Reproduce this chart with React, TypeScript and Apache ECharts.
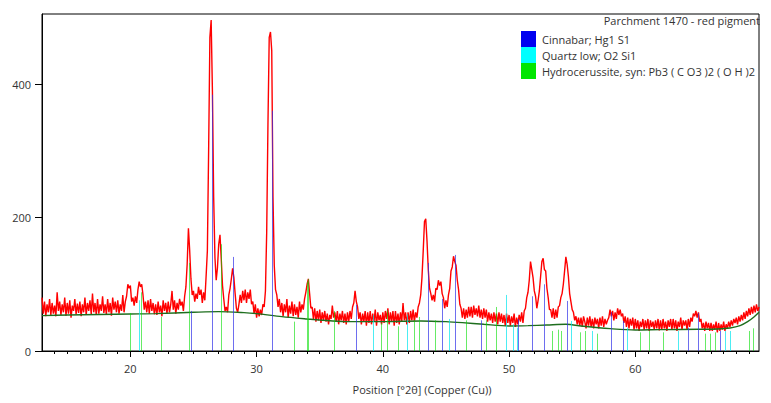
import React, { useEffect, useRef } from "react";
import * as echarts from "echarts";

// Observed pattern: intensity (counts) sampled every 0.1 °2θ from 13.0 to 69.8
const scanStart = 13.0;
const scanStep = 0.1;
const observedCounts = [
  80, 56, 74, 52, 70, 58, 78, 54, 72, 56,
  68, 52, 88, 60, 74, 54, 70, 58, 80, 53,
  72, 56, 76, 50, 68, 60, 78, 55, 71, 57,
  74, 52, 70, 58, 80, 54, 72, 60, 76, 55,
  86, 58, 72, 54, 78, 56, 70, 60, 82, 57,
  70, 55, 78, 58, 72, 53, 80, 62, 74, 58,
  76, 56, 70, 60, 84, 58, 74, 82, 100, 94,
  98, 74, 80, 68, 82, 72, 92, 104, 96, 100,
  84, 62, 74, 58, 76, 56, 78, 60, 72, 55,
  70, 54, 74, 58, 68, 52, 76, 60, 72, 56,
  74, 58, 70, 90, 62, 76, 56, 72, 62, 78,
  68, 74, 60, 82, 96, 130, 184, 150, 108, 84,
  90, 74, 86, 78, 96, 84, 92, 72, 88, 76,
  112, 150, 300, 470, 496, 390, 230, 140, 106, 125,
  160, 174, 138, 98, 78, 60, 66, 58, 84, 94,
  108, 124, 110, 86, 64, 58, 70, 84, 72, 90,
  76, 92, 72, 88, 78, 92, 70, 74, 56, 70,
  50, 64, 52, 62, 54, 70, 66, 90, 178, 340,
  470, 478, 450, 230, 128, 92, 84, 66, 78, 58,
  72, 52, 70, 58, 78, 50, 68, 56, 74, 52,
  70, 54, 66, 50, 74, 58, 70, 62, 78, 88,
  100, 108, 86, 64, 66, 48, 64, 44, 60, 46,
  62, 42, 58, 46, 60, 44, 56, 40, 54, 48,
  68, 50, 58, 44, 60, 40, 56, 46, 60, 42,
  56, 40, 58, 44, 60, 48, 66, 72, 90, 74,
  66, 48, 58, 40, 56, 44, 60, 38, 58, 42,
  60, 40, 56, 44, 62, 38, 58, 46, 54, 40,
  58, 42, 60, 48, 64, 40, 58, 44, 60, 38,
  60, 42, 56, 40, 58, 44, 72, 46, 58, 40,
  58, 42, 60, 46, 62, 44, 58, 50, 66, 72,
  84, 110, 150, 194, 198, 165, 122, 94, 86, 76,
  84, 74, 94, 92, 106, 98, 104, 86, 80, 64,
  76, 66, 84, 94, 120, 126, 142, 134, 128, 106,
  92, 70, 64, 50, 64, 48, 62, 50, 66, 52,
  66, 50, 68, 54, 64, 52, 68, 50, 62, 48,
  64, 50, 62, 44, 58, 46, 56, 42, 58, 44,
  56, 40, 58, 44, 56, 42, 54, 38, 56, 42,
  54, 38, 52, 42, 56, 36, 50, 40, 54, 44,
  58, 42, 60, 64, 80, 88, 106, 134, 122, 110,
  90, 82, 64, 76, 90, 112, 134, 139, 122, 120,
  94, 80, 62, 62, 50, 64, 48, 62, 50, 66,
  68, 80, 86, 100, 120, 141, 130, 112, 86, 74,
  62, 58, 46, 52, 40, 50, 38, 50, 36, 52,
  44, 34, 50, 38, 52, 36, 48, 34, 50, 40,
  48, 34, 50, 38, 52, 36, 48, 40, 46, 50,
  62, 52, 60, 46, 58, 48, 64, 54, 62, 52,
  56, 42, 52, 36, 50, 34, 48, 38, 50, 32,
  48, 34, 46, 30, 44, 36, 48, 32, 46, 34,
  48, 30, 46, 36, 44, 32, 46, 34, 48, 31,
  46, 32, 48, 34, 44, 30, 46, 36, 48, 32,
  48, 34, 46, 30, 44, 36, 50, 32, 46, 38,
  46, 32, 48, 36, 50, 44, 56, 52, 60, 50,
  58, 44, 48, 34, 42, 30, 44, 34, 42, 30,
  42, 30, 40, 32, 44, 28, 42, 30, 40, 32,
  44, 30, 40, 34, 44, 36, 46, 38, 48, 42,
  50, 40, 52, 44, 54, 46, 58, 48, 60, 52,
  64, 54, 66, 56, 68, 58, 70, 60, 66,
];

// Background curve
const backgroundPos = [13, 15, 20, 22, 25, 27, 29, 30, 32, 34, 35, 37, 40, 43, 45, 46.3, 48, 50, 51.5, 53, 54.5, 55.9, 58, 60, 62, 65, 66.5, 67.5, 68.3, 68.9, 69.4, 69.8];
const backgroundInt = [53, 54, 55.5, 56, 58, 59, 57.5, 56, 51.5, 48, 46.5, 44, 44, 45, 44, 42.5, 40, 37.5, 38, 39, 40, 37, 33.5, 31.5, 32, 32.5, 33, 34.5, 38, 44, 51, 58];

// Reference patterns (stick positions °2θ and heights)
const cinnabarPos = [24.77, 26.49, 28.15, 31.24, 37.86, 43.6, 44.67, 45.72, 47.8, 50.73, 51.78, 52.74, 54.57, 58.1, 59.0, 64.2, 65.0, 66.7];
const cinnabarInt = [60, 384, 141, 360, 69, 132, 78, 144, 46, 48, 82, 100, 75, 58, 45, 35, 57, 30];

const quartzPos = [20.66, 39.2, 41.95, 45.27, 49.72, 50.3, 50.6, 54.94, 56.58, 59.35, 63.4, 67.1, 67.5];
const quartzInt = [76, 54, 55, 48, 84, 40, 35, 45, 30, 35, 30, 30, 30];

const hydroPos = [20.0, 20.87, 22.45, 24.65, 27.15, 32.95, 33.98, 34.1, 36.1, 39.87, 40.3, 41.17, 42.5, 42.9, 44.12, 46.6, 48.2, 48.95, 53.44, 53.84, 54.1, 55.62, 56.02, 56.98, 60.4, 61.05, 62.23, 65.5, 65.9, 66.3, 69.0, 69.3];
const hydroInt = [57, 88, 51, 132, 160, 44, 104, 108, 60, 42, 61, 37, 46, 51, 46, 46, 46, 66, 30, 32, 30, 28, 30, 26, 28, 30, 28, 26, 26, 28, 30, 34];

const majorTicks = [20, 30, 40, 50, 60];
const minorTicks = [14, 15, 16, 17, 18, 19, 21, 22, 23, 24, 25, 26, 27, 28, 29, 31, 32, 33, 34, 35, 36, 37, 38, 39, 41, 42, 43, 44, 45, 46, 47, 48, 49, 51, 52, 53, 54, 55, 56, 57, 58, 59, 61, 62, 63, 64, 65, 66, 67, 68, 69];
const yTicks = [0, 200, 400];

const legendTitle = "Parchment 1470 - red pigment";
const legendNames = ["Cinnabar; Hg1 S1", "Quartz low; O2 Si1", "Hydrocerussite, syn: Pb3 ( C O3 )2 ( O H )2"];
const legendColors = ["#0000f0", "#00ffff", "#00e600"];
const xTitle = "Position [°2θ] (Copper (Cu))";

const FONT = "'Open Sans', 'Noto Sans', sans-serif";

function stickSeries(pos: number[], ints: number[], color: string, opacity: number) {
  return {
    type: "custom",
    xAxisIndex: 0,
    yAxisIndex: 0,
    z: 4,
    silent: true,
    encode: { x: 0, y: 1 },
    data: pos.map((p, i) => [p, ints[i]]),
    renderItem: (params: any, api: any) => {
      const top = api.coord([api.value(0), api.value(1)]);
      const base = api.coord([api.value(0), 0]);
      const x = Math.round(top[0]) + 0.5;
      return {
        type: "line",
        shape: { x1: x, y1: base[1], x2: x, y2: top[1] },
        style: { stroke: color, lineWidth: 1, opacity },
      };
    },
  };
}

export default function App() {
  const ref = useRef<HTMLDivElement>(null);
  useEffect(() => {
    if (!ref.current) return;
    const chart = echarts.init(ref.current, undefined, { renderer: "svg" });
    const observed = observedCounts.map((v, i) => [+(scanStart + i * scanStep).toFixed(2), v]);
    const background = backgroundPos.map((p, i) => [p, backgroundInt[i]]);

    const legendGraphics: any[] = [
      {
        type: "text",
        right: 11,
        top: 15,
        z: 10,
        style: { text: legendTitle, font: `11px ${FONT}`, fill: "#333" },
      },
    ];
    legendNames.forEach((name, i) => {
      legendGraphics.push({
        type: "rect",
        z: 10,
        shape: { x: 521, y: 31 + i * 16, width: 15, height: 16 },
        style: { fill: legendColors[i] },
      });
      legendGraphics.push({
        type: "text",
        z: 10,
        x: 542,
        y: 39 + i * 16,
        style: { text: name, font: `11px ${FONT}`, fill: "#333", textVerticalAlign: "middle", verticalAlign: "middle" },
      });
    });
    legendGraphics.push({
      type: "rect",
      z: 20,
      shape: { x: 760, y: 0, width: 11, height: 403 },
      style: { fill: "#fff" },
    });
    legendGraphics.push({
      type: "text",
      z: 10,
      x: 422,
      y: 389,
      style: { text: xTitle, font: `11px ${FONT}`, fill: "#333", align: "center", textAlign: "center", verticalAlign: "middle", textVerticalAlign: "middle" },
    });

    chart.setOption({
      animation: false,
      textStyle: { fontFamily: FONT },
      grid: { left: 42, top: 14, width: 717, height: 337, show: true, borderColor: "#000", borderWidth: 1, backgroundColor: "transparent" },
      xAxis: [
        {
          type: "value",
          min: 13,
          max: 69.8,
          axisLine: { show: true, onZero: false, lineStyle: { color: "#000", width: 1 } },
          axisTick: { show: true, customValues: majorTicks, length: 6, lineStyle: { color: "#000" } },
          axisLabel: { customValues: majorTicks, color: "#333", fontSize: 11, margin: 12, fontFamily: FONT },
          splitLine: { show: false },
        },
        {
          type: "value",
          min: 13,
          max: 69.8,
          position: "bottom",
          axisLine: { show: false, onZero: false },
          axisTick: { show: true, customValues: minorTicks, length: 3, lineStyle: { color: "#000" } },
          axisLabel: { show: false },
          splitLine: { show: false },
        },
      ],
      yAxis: {
        type: "value",
        min: 0,
        max: 505,
        axisLine: { show: true, lineStyle: { color: "#000", width: 1 } },
        axisTick: { show: true, customValues: yTicks, length: 7, lineStyle: { color: "#000" } },
        axisLabel: { customValues: yTicks, color: "#333", fontSize: 11, margin: 11, fontFamily: FONT },
        splitLine: { show: false },
      },
      series: [
        {
          type: "line",
          data: observed,
          showSymbol: false,
          symbol: "none",
          z: 2,
          lineStyle: { color: "#ff0000", width: 1.4 },
        },
        {
          type: "line",
          data: background,
          showSymbol: false,
          symbol: "none",
          smooth: 0.3,
          z: 3,
          lineStyle: { color: "#1e6e1e", width: 1.4 },
        },
        stickSeries(hydroPos, hydroInt, "#00dd00", 0.6),
        stickSeries(quartzPos, quartzInt, "#00e5ee", 0.7),
        stickSeries(cinnabarPos, cinnabarInt, "#3030e8", 0.7),
      ],
      graphic: legendGraphics,
    });
    return () => chart.dispose();
  }, []);
  return <div ref={ref} style={{ position: "absolute", left: 0, top: 0, width: 771, height: 403 }} />;
}
